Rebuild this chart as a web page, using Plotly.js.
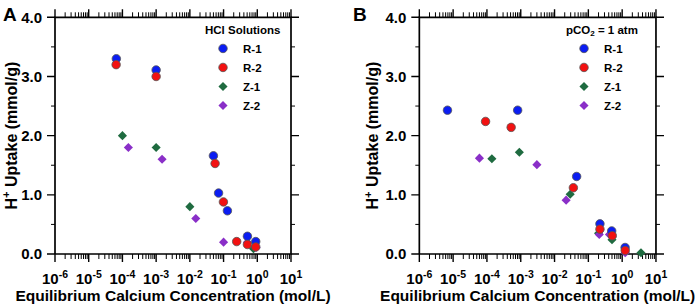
<!DOCTYPE html>
<html><head><meta charset="utf-8">
<script src="https://cdn.plot.ly/plotly-3.0.1.min.js"></script>
<style>html,body{margin:0;padding:0;background:#fff}#chart{width:699px;height:307px}</style>
</head><body><div id="chart"></div>
<script>
// Panel A: HCl solutions
const hclR1x = [6.6e-5, 1.0e-3, 0.050, 0.071, 0.13, 0.51, 0.90];
const hclR1y = [3.30, 3.11, 1.66, 1.03, 0.73, 0.30, 0.21];
const hclR2x = [6.5e-5, 1.0e-3, 0.056, 0.099, 0.245, 0.51, 0.90];
const hclR2y = [3.20, 3.00, 1.53, 0.88, 0.21, 0.16, 0.12];
const hclZ1x = [1.0e-4, 1.0e-3, 0.010, 0.77];
const hclZ1y = [2.00, 1.80, 0.80, 0.09];
const hclZ2x = [1.5e-4, 1.5e-3, 0.015, 0.10, 0.51, 0.92];
const hclZ2y = [1.80, 1.60, 0.60, 0.20, 0.20, 0.11];
// Panel B: pCO2 = 1 atm
const co2R1x = [6.8e-6, 8.1e-4, 0.045, 0.22, 0.49, 1.22];
const co2R1y = [2.43, 2.43, 1.31, 0.51, 0.39, 0.11];
const co2R2x = [9.1e-5, 5.2e-4, 0.036, 0.22, 0.51, 1.23];
const co2R2y = [2.24, 2.14, 1.12, 0.42, 0.31, 0.06];
const co2Z1x = [1.4e-4, 9.1e-4, 0.029, 0.20, 0.50, 3.6];
const co2Z1y = [1.61, 1.72, 1.01, 0.35, 0.24, 0.02];
const co2Z2x = [6.0e-5, 3.0e-3, 0.022, 0.21, 0.42, 1.23];
const co2Z2y = [1.62, 1.51, 0.91, 0.33, 0.33, 0.02];

const seriesNames = ['R-1', 'R-2', 'Z-1', 'Z-2'];
const xTickVals = [1e-6, 1e-5, 1e-4, 1e-3, 1e-2, 1e-1, 1, 10];
const xTickText = ['10<sup>-6</sup>', '10<sup>-5</sup>', '10<sup>-4</sup>', '10<sup>-3</sup>', '10<sup>-2</sup>', '10<sup>-1</sup>', '10<sup>0</sup>', '10<sup>1</sup>'];
const yTickVals = [0, 1, 2, 3, 4];
const yTickText = ['0.0', '1.0', '2.0', '3.0', '4.0'];
const yMinorVals = [0.5, 1.5, 2.5, 3.5];

const minorX = [];
for (let e = -6; e < 1; e++) for (let m = 2; m <= 9; m++) minorX.push(m * Math.pow(10, e));

const colors = ['#0b1df2', '#f21111', '#1f6b40', '#8a2fc8'];
const FONT = 'Liberation Sans, Arial, sans-serif';
const CLEAR = 'rgba(0,0,0,0)';

// ---- geometry (pixels) ----
const W = 699, H = 307;
const FR_T = 17.3, FR_B = 254;          // frame top / bottom
const FR_A = [55, 291], FR_B2 = [419.3, 656];
const PAD = 10;                          // room around the frame for outward ticks
const X_MIN = xTickVals[0], X_MAX = xTickVals[xTickVals.length - 1];
const Y_MIN = yTickVals[0], Y_MAX = yTickVals[yTickVals.length - 1];
const LX0 = Math.log10(X_MIN), LX1 = Math.log10(X_MAX);
const decPerPx = (LX1 - LX0) / (FR_A[1] - FR_A[0]);
const yPerPx = (Y_MAX - Y_MIN) / (FR_B - FR_T);
const xRange = [LX0 - PAD * decPerPx, LX1 + PAD * decPerPx];
const yRange = [Y_MIN - PAD * yPerPx, Y_MAX + PAD * yPerPx];

function mk(x, y, i, xa, ya, lg) {
  const circle = i < 2;
  return {
    type: 'scatter', mode: 'markers', x: x, y: y, name: seriesNames[i],
    xaxis: xa, yaxis: ya, legend: lg, showlegend: true, cliponaxis: false,
    marker: circle
      ? {symbol: 'circle', size: 8.5, color: colors[i], line: {color: '#555', width: 0.8}}
      : {symbol: 'diamond', size: 7, color: colors[i], line: {width: 0}}
  };
}

// frame + ticks as line traces, positioned by the axis scale
function decor(xa, ya) {
  const out = [];
  const seg = function (xs, ys, w) {
    out.push({type: 'scatter', mode: 'lines', x: xs, y: ys, xaxis: xa, yaxis: ya, showlegend: false,
              hoverinfo: 'skip', line: {color: '#000', width: w}, connectgaps: false});
  };
  function xTicks(vals, len) {
    const xs = [], ys = [];
    vals.forEach(function (v) {
      xs.push(v, v, null, v, v, null);
      ys.push(Y_MIN, Y_MIN - len * yPerPx, null, Y_MAX, Y_MAX + len * yPerPx, null);
    });
    return [xs, ys];
  }
  function yTicks(vals, len) {
    const xs = [], ys = [];
    const xl = Math.pow(10, LX0 - len * decPerPx), xr = Math.pow(10, LX1 + len * decPerPx);
    vals.forEach(function (v) {
      xs.push(X_MIN, xl, null, X_MAX, xr, null);
      ys.push(v, v, null, v, v, null);
    });
    return [xs, ys];
  }
  let t = xTicks(minorX, 5); seg(t[0], t[1], 1);
  t = yTicks(yMinorVals, 4); seg(t[0], t[1], 1);
  t = xTicks(xTickVals, 8); seg(t[0], t[1], 1.4);
  t = yTicks(yTickVals, 8); seg(t[0], t[1], 1.4);
  seg([X_MIN, X_MAX, X_MAX, X_MIN, X_MIN], [Y_MIN, Y_MIN, Y_MAX, Y_MAX, Y_MIN], 1.7);
  return out;
}

const series = [
  mk(hclZ1x, hclZ1y, 2, 'x', 'y', 'legend'),
  mk(hclZ2x, hclZ2y, 3, 'x', 'y', 'legend'),
  mk(hclR1x, hclR1y, 0, 'x', 'y', 'legend'),
  mk(hclR2x, hclR2y, 1, 'x', 'y', 'legend'),
  mk(co2Z1x, co2Z1y, 2, 'x2', 'y2', 'legend2'),
  mk(co2Z2x, co2Z2y, 3, 'x2', 'y2', 'legend2'),
  mk(co2R1x, co2R1y, 0, 'x2', 'y2', 'legend2'),
  mk(co2R2x, co2R2y, 1, 'x2', 'y2', 'legend2')
];
series[2].legendrank = 1; series[3].legendrank = 2; series[0].legendrank = 3; series[1].legendrank = 4;
series[6].legendrank = 1; series[7].legendrank = 2; series[4].legendrank = 3; series[5].legendrank = 4;

const data = decor('x', 'y').concat(decor('x2', 'y2'), series);

const tickFont = {family: FONT, size: 15, color: '#000', weight: 'bold'};

function xax(domain, anchor) {
  return {
    domain: domain, anchor: anchor, type: 'log', range: xRange, fixedrange: true,
    tickmode: 'array', tickvals: xTickVals, ticktext: xTickText,
    ticks: '', ticklabelstandoff: 4,
    showline: false, showgrid: false, zeroline: false, automargin: false,
    tickfont: tickFont,
    title: {text: 'Equilibrium Calcium Concentration (mol/L)', standoff: 2,
            font: {family: FONT, size: 15.5, color: '#000', weight: 'bold'}}
  };
}
function yax(domain, anchor) {
  return {
    domain: domain, anchor: anchor, range: yRange, fixedrange: true,
    tickmode: 'array', tickvals: yTickVals, ticktext: yTickText,
    ticks: '', ticklabelstandoff: 2,
    showline: false, showgrid: false, zeroline: false, automargin: false,
    tickfont: tickFont,
    title: {text: 'H<sup>+</sup> Uptake (mmol/g)', standoff: 2,
            font: {family: FONT, size: 16, color: '#000', weight: 'bold'}}
  };
}

const yDom = [(H - FR_B - PAD) / H, (H - FR_T + PAD) / H];
const xDomA = [(FR_A[0] - PAD) / W, (FR_A[1] + PAD) / W];
const xDomB = [(FR_B2[0] - PAD) / W, (FR_B2[1] + PAD) / W];
const legFont = {family: FONT, size: 11.5, color: '#000', weight: 'bold'};

const layout = {
  width: W, height: H, margin: {l: 0, r: 0, t: 0, b: 0},
  paper_bgcolor: '#fff', plot_bgcolor: CLEAR,
  font: {family: FONT, color: '#000'},
  dragmode: false, hovermode: false,
  xaxis: xax(xDomA, 'y'),
  yaxis: yax(yDom, 'x'),
  xaxis2: xax(xDomB, 'y2'),
  yaxis2: yax(yDom, 'x2'),
  legend: {x: 203 / W, y: 1 - 19 / H, xanchor: 'left', yanchor: 'top', bgcolor: CLEAR,
           font: legFont, title: {text: 'HCl Solutions', font: legFont}, tracegroupgap: 0, itemwidth: 30},
  legend2: {x: 564 / W, y: 1 - 19 / H, xanchor: 'left', yanchor: 'top', bgcolor: CLEAR,
            font: legFont, title: {text: 'pCO<sub>2</sub> = 1 atm', font: legFont}, tracegroupgap: 0, itemwidth: 30},
  annotations: [
    {text: 'A', xref: 'paper', yref: 'paper', x: 1 / W, y: 1 - 2 / H, xanchor: 'left', yanchor: 'top', showarrow: false,
     font: {family: FONT, size: 19, color: '#000', weight: 'bold'}},
    {text: 'B', xref: 'paper', yref: 'paper', x: 351 / W, y: 1 - 2 / H, xanchor: 'left', yanchor: 'top', showarrow: false,
     font: {family: FONT, size: 19, color: '#000', weight: 'bold'}}
  ]
};

Plotly.newPlot('chart', data, layout, {displayModeBar: false});
</script></body></html>
